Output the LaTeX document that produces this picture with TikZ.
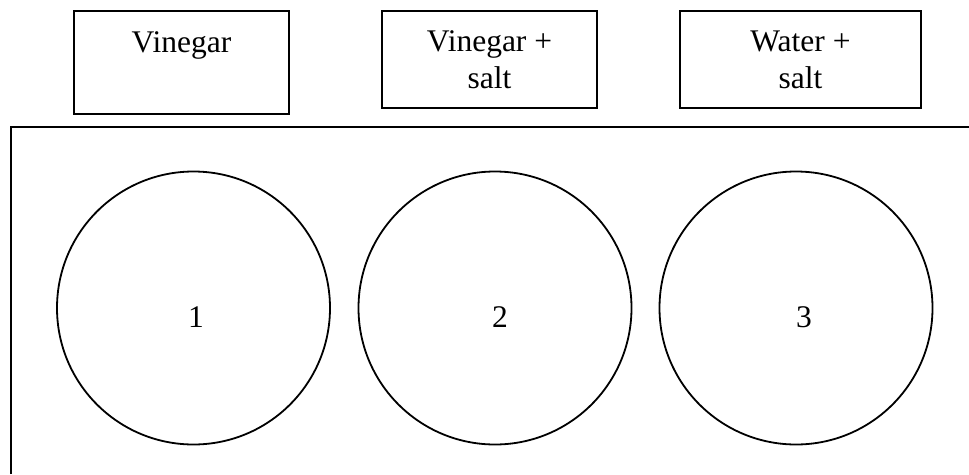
\documentclass[tikz,border=0pt]{standalone}
\usepackage{fontspec}
\setmainfont{Liberation Serif}
\begin{document}
\begin{tikzpicture}[x=1pt,y=-1pt,line width=1.8pt,
    font=\fontsize{31.5}{37}\selectfont,
    sample/.style={draw,minimum width=215pt,minimum height=97pt,align=center,inner sep=0pt},
    dish/.style={draw,circle,minimum size=273pt,inner sep=0pt}]
    \useasboundingbox (0,0) rectangle (969,474);

    \node[sample,minimum height=103pt] (vin) at (181.5,62.5) {};
    \node[anchor=base] (vinlab) at (181.5,52) {Vinegar};
    \node[sample] (vinsalt) at (489.5,59.5) {Vinegar +\\salt};
    \node[sample,minimum width=241pt] (watsalt) at (800.5,59.5) {Water +\\salt};

    \draw (11,474) -- (11,127) -- (969,127);

    \node[dish] (d1) at (193.5,308) {};
    \node[dish] (d2) at (495,308) {};
    \node[dish] (d3) at (796,308) {};
    \node (n1) at (196,317) {1};
    \node (n2) at (500,317) {2};
    \node (n3) at (804,317) {3};
\end{tikzpicture}
\end{document}
